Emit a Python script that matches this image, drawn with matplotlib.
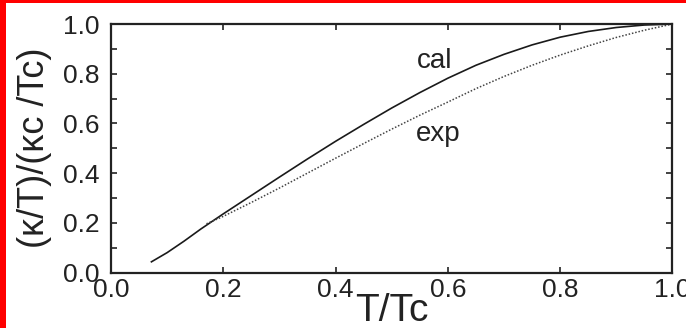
import matplotlib
matplotlib.use("Agg")
import matplotlib.pyplot as plt
from matplotlib.patches import Rectangle
from matplotlib.ticker import MultipleLocator, FormatStrFormatter

plt.rcParams['font.family'] = ['Liberation Sans', 'DejaVu Sans']

# calculated curve
t_cal = [0.072, 0.10, 0.13, 0.16, 0.20, 0.25, 0.30, 0.35, 0.40, 0.45, 0.50,
         0.55, 0.60, 0.65, 0.70, 0.75, 0.80, 0.85, 0.90, 0.95, 1.00]
k_cal = [0.043, 0.080, 0.126, 0.175, 0.236, 0.310, 0.384, 0.457, 0.528, 0.596, 0.662,
         0.724, 0.782, 0.834, 0.878, 0.916, 0.947, 0.970, 0.986, 0.996, 1.000]

# experimental curve
t_exp = [0.17, 0.20, 0.25, 0.30, 0.35, 0.40, 0.45, 0.50, 0.55, 0.60,
         0.65, 0.70, 0.75, 0.80, 0.85, 0.90, 0.95, 1.00]
k_exp = [0.196, 0.226, 0.282, 0.340, 0.400, 0.460, 0.519, 0.577, 0.633, 0.686,
         0.740, 0.789, 0.834, 0.875, 0.912, 0.946, 0.975, 1.000]

fig = plt.figure(figsize=(6.86, 3.28), dpi=100)
ax = fig.add_axes([0.1618, 0.1692, 0.8185, 0.7576])

ax.plot(t_cal, k_cal, color='#1a1a1a', lw=1.2, solid_joinstyle='round')
ax.plot(t_exp, k_exp, color='#444444', lw=1.1, linestyle=(0, (1, 1.2)))

ax.set_xlim(0, 1)
ax.set_ylim(0, 1)
ax.xaxis.set_major_locator(MultipleLocator(0.2))
ax.yaxis.set_major_locator(MultipleLocator(0.2))
ax.yaxis.set_minor_locator(MultipleLocator(0.1))
ax.xaxis.set_major_formatter(FormatStrFormatter('%.1f'))
ax.yaxis.set_major_formatter(FormatStrFormatter('%.1f'))

ax.tick_params(which='both', direction='in', top=True, right=True,
               length=4, width=1.2, color='#222222')
ax.tick_params(axis='both', which='major', labelsize=19, labelcolor='#222222')
ax.tick_params(axis='x', pad=4)
ax.tick_params(axis='y', pad=8)
for s in ax.spines.values():
    s.set_linewidth(1.6)
    s.set_color('#222222')

ax.text(0.577, 0.853, 'cal', fontsize=20, color='#222222', ha='center', va='center')
ax.text(0.582, 0.558, 'exp', fontsize=20, color='#222222', ha='center', va='center')

fig.text(392 / 686, 1 - 311 / 328, 'T/Tc', fontsize=28, color='#222222',
         ha='center', va='center')
fig.text(35 / 686, 1 - 148 / 328, '(κ/T)/(κc /Tc)', fontsize=26, color='#222222',
         ha='center', va='center', rotation=90)

# frame bars along the left and top edges
fig.patches.append(Rectangle((0, 0), 6 / 686, 1, transform=fig.transFigure,
                             facecolor='#ff0000', edgecolor='none', zorder=10))
fig.patches.append(Rectangle((0, 1 - 3 / 328), 1, 3 / 328, transform=fig.transFigure,
                             facecolor='#ff0000', edgecolor='none', zorder=10))

fig.savefig('out.png', dpi=100)
